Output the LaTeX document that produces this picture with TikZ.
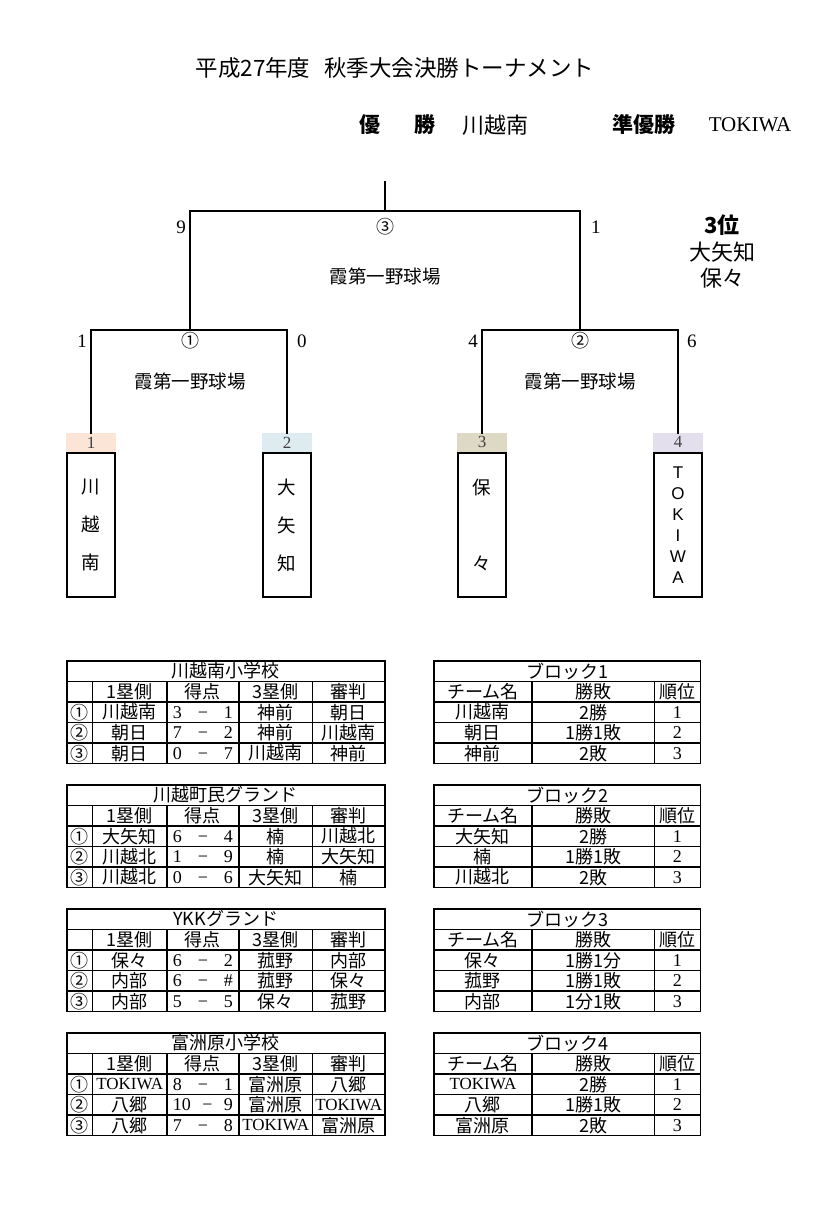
\documentclass[tikz,border=0pt]{standalone}
\usepackage{fontspec}
\setmainfont{Liberation Serif}
\setsansfont{Liberation Sans}
\newfontfamily\jp{Noto Sans CJK JP}
\usepackage{tikz}
\usetikzlibrary{positioning, matrix}
\definecolor{seedorange}{HTML}{FBE5D6}
\definecolor{seedblue}{HTML}{DEEBF1}
\definecolor{seedtan}{HTML}{DDD9C4}
\definecolor{seedpurple}{HTML}{E4DFEC}
\definecolor{inkgray}{HTML}{404040}
\newcommand\cellsize{\fontsize{18}{19}\selectfont}
\newcommand\score[2]{\makebox[60pt]{\rmfamily #1\hfill −\hfill #2}}
\newcommand\tokiwa{{\rmfamily\fontsize{17}{18}\selectfont TOKIWA}}

\begin{document}
\begin{tikzpicture}[
  x=1pt, y=-1pt,
  bracket/.style={line width=1.6pt, line cap=rect},
  teambox/.style={rectangle, draw, line width=1.8pt, minimum width=48pt, minimum height=144pt, inner sep=0pt, align=center, font=\jp\fontsize{18.5}{38}\selectfont},
  seedbox/.style={rectangle, fill=#1, minimum width=50pt, minimum height=19pt, inner sep=0pt, font=\rmfamily\fontsize{17}{17}\selectfont, text=inkgray},
  pts/.style={font=\rmfamily\fontsize{19}{19}\selectfont, inner sep=1pt},
  game/.style={font=\jp\fontsize{18}{18}\selectfont, inner sep=1pt},
  venue/.style={font=\jp\fontsize{18.5}{18.5}\selectfont},
  cell/.style={rectangle, draw, line width=1.5pt, inner sep=0pt, anchor=center, minimum height=20.5pt, font=\jp\cellsize},
  tabhead/.style={cell, minimum width=#1, anchor=north west},
  gametab/.style={matrix of nodes, nodes in empty cells, inner sep=0pt, column sep=-1.5pt, row sep=-1.5pt, nodes={cell},
    column 1/.style={nodes={minimum width=25.5pt}},
    column 2/.style={nodes={minimum width=74.5pt}},
    column 3/.style={nodes={minimum width=72pt}},
    column 4/.style={nodes={minimum width=73.5pt}},
    column 5/.style={nodes={minimum width=72.5pt}}},
  ranktab/.style={matrix of nodes, nodes in empty cells, inner sep=0pt, column sep=-1.5pt, row sep=-1.5pt, nodes={cell},
    column 1/.style={nodes={minimum width=98pt}},
    column 2/.style={nodes={minimum width=122.5pt}},
    column 3/.style={nodes={minimum width=46pt, font=\rmfamily\cellsize}}}
]
  \useasboundingbox (0,0) rectangle (828,1212);

  % Heading
  \node[font=\jp\fontsize{22.5}{22.5}\selectfont] (title) at (395,68) {平成27年度\hspace{14pt}秋季大会決勝トーナメント};
  \node[font=\jp\bfseries\fontsize{21}{21}\selectfont] (winlbl) at (397,125) {優\hspace{34pt}勝};
  \node[font=\jp\fontsize{22}{22}\selectfont] (winner) at (495,125) {川越南};
  \node[font=\jp\bfseries\fontsize{21}{21}\selectfont] (runlbl) at (644,125) {準優勝};
  \node[font=\rmfamily\fontsize{21}{21}\selectfont] (runner) at (750,125) {TOKIWA};

  % Teams
  \node[teambox] (team1) at (91,525) {川\\越\\南};
  \node[teambox] (team2) at (287,525) {大\\矢\\知};
  \node[teambox] (team3) at (482,525) {保\\[38pt]々};
  \node[teambox, font=\sffamily\fontsize{17}{21}\selectfont] (team4) at (678,525) {T\\O\\K\\I\\W\\A};
  \node[seedbox=seedorange, above=0pt of team1] (seed1) {1};
  \node[seedbox=seedblue, above=0pt of team2] (seed2) {2};
  \node[seedbox=seedtan, above=0pt of team3] (seed3) {3};
  \node[seedbox=seedpurple, above=0pt of team4] (seed4) {4};

  % Bracket
  \coordinate (top) at (385,182);
  \coordinate (final) at (385,211);
  \coordinate (m1) at (190,330);
  \coordinate (m2) at (580,330);
  \draw[bracket] (seed1.north) |- (m1) -| (seed2.north);
  \draw[bracket] (seed3.north) |- (m2) -| (seed4.north);
  \draw[bracket] (m1) |- (final) -| (m2);
  \draw[bracket] (final) -- (top);

  % Final
  \node[pts, anchor=east] (s9) at (187,227) {9};
  \node[game] (g3) at (385,227) {③};
  \node[pts, anchor=west] (s1) at (590,227) {1};
  \node[venue] (v3) at (385,276) {霞第一野球場};
  \node[font=\jp\fontsize{22}{26.5}\selectfont, align=center] (third) at (722,251.5) {\textbf{3位}\\大矢知\\保々};

  % Semi finals
  \node[pts, anchor=east] (s1b) at (88,341) {1};
  \node[game] (g1) at (190,341) {①};
  \node[pts, anchor=west] (s0) at (296,341) {0};
  \node[venue] (v1) at (190,381) {霞第一野球場};
  \node[pts, anchor=east] (s4) at (479,341) {4};
  \node[game] (g2) at (580,341) {②};
  \node[pts, anchor=west] (s6) at (686,341) {6};
  \node[venue] (v2) at (580,381) {霞第一野球場};

  % Venue tables
  \node[tabhead=318pt] (h1) at (66,660) {川越南小学校};
  \matrix (t1) [gametab, below=-1.5pt of h1.south west, anchor=north west] {
    & 1塁側 & 得点 & 3塁側 & 審判 \\
    ① & 川越南 & \score{3}{1} & 神前 & 朝日 \\
    ② & 朝日 & \score{7}{2} & 神前 & 川越南 \\
    ③ & 朝日 & \score{0}{7} & 川越南 & 神前 \\
  };
  \node[tabhead=318pt] (h2) at (66,784) {川越町民グランド};
  \matrix (t2) [gametab, below=-1.5pt of h2.south west, anchor=north west] {
    & 1塁側 & 得点 & 3塁側 & 審判 \\
    ① & 大矢知 & \score{6}{4} & 楠 & 川越北 \\
    ② & 川越北 & \score{1}{9} & 楠 & 大矢知 \\
    ③ & 川越北 & \score{0}{6} & 大矢知 & 楠 \\
  };
  \node[tabhead=318pt] (h3) at (66,908) {YKKグランド};
  \matrix (t3) [gametab, below=-1.5pt of h3.south west, anchor=north west] {
    & 1塁側 & 得点 & 3塁側 & 審判 \\
    ① & 保々 & \score{6}{2} & 菰野 & 内部 \\
    ② & 内部 & \score{6}{\#} & 菰野 & 保々 \\
    ③ & 内部 & \score{5}{5} & 保々 & 菰野 \\
  };
  \node[tabhead=318pt] (h4) at (66,1032) {富洲原小学校};
  \matrix (t4) [gametab, below=-1.5pt of h4.south west, anchor=north west] {
    & 1塁側 & 得点 & 3塁側 & 審判 \\
    ① & \tokiwa & \score{8}{1} & 富洲原 & 八郷 \\
    ② & 八郷 & \score{10}{9} & 富洲原 & \tokiwa \\
    ③ & 八郷 & \score{7}{8} & \tokiwa & 富洲原 \\
  };

  % Block tables
  \node[tabhead=266.5pt] (b1) at (433,660) {ブロック1};
  \matrix (r1) [ranktab, below=-1.5pt of b1.south west, anchor=north west] {
    チーム名 & 勝敗 & \jp 順位 \\
    川越南 & 2勝 & 1 \\
    朝日 & 1勝1敗 & 2 \\
    神前 & 2敗 & 3 \\
  };
  \node[tabhead=266.5pt] (b2) at (433,784) {ブロック2};
  \matrix (r2) [ranktab, below=-1.5pt of b2.south west, anchor=north west] {
    チーム名 & 勝敗 & \jp 順位 \\
    大矢知 & 2勝 & 1 \\
    楠 & 1勝1敗 & 2 \\
    川越北 & 2敗 & 3 \\
  };
  \node[tabhead=266.5pt] (b3) at (433,908) {ブロック3};
  \matrix (r3) [ranktab, below=-1.5pt of b3.south west, anchor=north west] {
    チーム名 & 勝敗 & \jp 順位 \\
    保々 & 1勝1分 & 1 \\
    菰野 & 1勝1敗 & 2 \\
    内部 & 1分1敗 & 3 \\
  };
  \node[tabhead=266.5pt] (b4) at (433,1032) {ブロック4};
  \matrix (r4) [ranktab, below=-1.5pt of b4.south west, anchor=north west] {
    チーム名 & 勝敗 & \jp 順位 \\
    \tokiwa & 2勝 & 1 \\
    八郷 & 1勝1敗 & 2 \\
    富洲原 & 2敗 & 3 \\
  };
\end{tikzpicture}
\end{document}
